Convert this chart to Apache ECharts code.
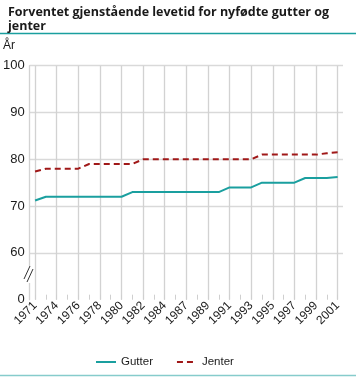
<!DOCTYPE html>
<html><head><meta charset="utf-8">
<script src="https://cdn.jsdelivr.net/npm/echarts@6/dist/echarts.min.js"></script>
<style>html,body{margin:0;padding:0;background:#fff}#c{width:356px;height:377px}</style>
</head><body><div id="c"></div>
<script>
// Categories (years) - tick labels shown on every other category
const years = ['1971','1972','1974','1975','1976','1977','1978','1979','1980','1981','1982','1983','1984','1985',
  '1987','1988','1989','1990','1991','1992','1993','1994','1995','1996','1997','1998','1999','2000','2001'];
// Life expectancy at birth, boys
const gutter = [71.2, 72,72,72,72,72,72,72,72, 73,73,73,73,73,73,73,73,73, 74,74,74, 75,75,75,75, 76,76,76, 76.2];
// Life expectancy at birth, girls
const jenter = [77.4, 78,78,78,78, 79,79,79,79,79, 80,80,80,80,80,80,80,80,80,80,80, 81,81,81,81,81,81, 81.3, 81.5];
// Y axis: broken axis, bottom tick (50) shown as 0
const yTickValues = [50, 60, 70, 80, 90, 100];
const yTickLabels = ['0', '60', '70', '80', '90', '100'];

const FONT = 'Liberation Sans';
const TITLE_FONT = 'Open Sans';
const TEAL = '#1a9f9f';
const RED = '#a01818';

const chart = echarts.init(document.getElementById('c'), null, {renderer: 'canvas'});
chart.setOption({
  animation: false,
  backgroundColor: '#fff',
  textStyle: {fontFamily: FONT},
  title: {
    text: 'Forventet gjenstående levetid for nyfødte gutter og\njenter',
    left: 3, top: 1,
    textStyle: {fontFamily: TITLE_FONT, fontSize: 12.5, fontWeight: 'bold', color: '#1a1a1a', lineHeight: 13.5}
  },
  grid: {left: 27.5, right: 13, top: 65.7, bottom: 77.3, containLabel: false},
  legend: {
    top: 351, left: 90,
    itemWidth: 20, itemHeight: 10, itemGap: 23,
    itemStyle: {opacity: 0},
    textStyle: {fontFamily: FONT, fontSize: 11.5, color: '#1a1a1a'},
    data: ['Gutter', 'Jenter']
  },
  xAxis: {
    type: 'category',
    data: years,
    boundaryGap: true,
    axisLine: {show: false},
    axisTick: {show: true, inside: true, length: 5, alignWithLabel: true, interval: 0,
      lineStyle: {color: '#cfcfcf', width: 1}},
    axisLabel: {interval: 1, rotate: 45, margin: 4, fontSize: 12, color: '#1a1a1a', fontFamily: FONT},
    splitLine: {show: true, interval: 1, alignWithLabel: true, lineStyle: {color: '#d2d2d2', width: 1.3}}
  },
  yAxis: {
    type: 'value',
    min: 50, max: 100, interval: 10,
    axisLine: {show: true, lineStyle: {color: '#d2d2d2', width: 1.3}},
    axisTick: {show: false},
    axisLabel: {fontSize: 13, color: '#1a1a1a', margin: 5, fontFamily: FONT,
      formatter: function (v) { const i = yTickValues.indexOf(v); return i >= 0 ? yTickLabels[i] : ''; }},
    splitLine: {show: true, lineStyle: {color: ['rgba(0,0,0,0)', '#d9d9d9', '#d9d9d9', '#d9d9d9', '#d9d9d9', '#d9d9d9'], width: 1.3}}
  },
  series: [
    {name: 'Gutter', type: 'line', data: gutter, symbol: 'none',
      lineStyle: {color: TEAL, width: 2}, itemStyle: {color: TEAL}},
    {name: 'Jenter', type: 'line', data: jenter, symbol: 'none',
      lineStyle: {color: RED, width: 2, type: [6, 4]}, itemStyle: {color: RED}}
  ],
  graphic: [
    {type: 'line', shape: {x1: 0, y1: 33.5, x2: 356, y2: 33.5}, style: {stroke: TEAL, lineWidth: 1.5}},
    {type: 'line', shape: {x1: 0, y1: 375.5, x2: 356, y2: 375.5}, style: {stroke: '#86cccc', lineWidth: 1.5}},
    {type: 'text', left: 3, top: 40, style: {text: 'År', font: '12px ' + FONT, fill: '#1a1a1a'}},
    {type: 'rect', shape: {x: 23, y: 266, width: 10, height: 17}, style: {fill: '#fff'}, z: 100},
    {type: 'line', shape: {x1: 24, y1: 279, x2: 30, y2: 266}, style: {stroke: '#333', lineWidth: 1}, z: 101},
    {type: 'line', shape: {x1: 27, y1: 282, x2: 33, y2: 269}, style: {stroke: '#333', lineWidth: 1}, z: 101}
  ]
});
</script>
</body></html>
